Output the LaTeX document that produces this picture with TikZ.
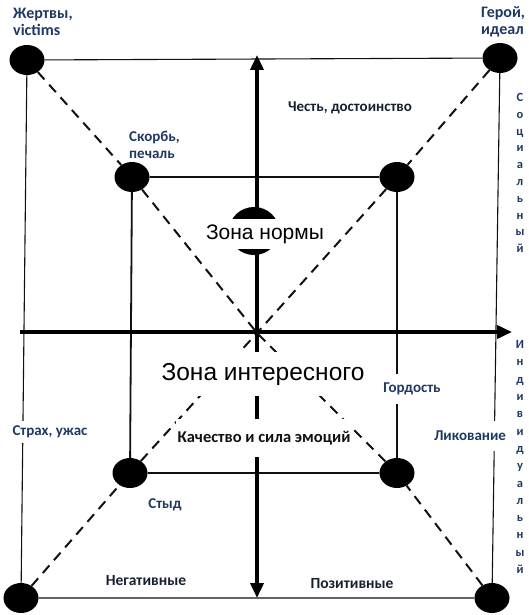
\documentclass[tikz,border=0pt]{standalone}
\usepackage{fontspec}
\setmainfont{Carlito}
\newfontfamily\zonefont{Liberation Sans}
\usetikzlibrary{arrows.meta,shapes.geometric}
\definecolor{emoblue}{HTML}{1F3864}
\definecolor{emodark}{HTML}{17202E}
\definecolor{emofg}{HTML}{111111}

\begin{document}
\begin{tikzpicture}[x=1pt,y=-1pt,>={Triangle[length=15pt,width=13pt]}]
  \tikzstyle{bigdot}=[ellipse, fill=black, minimum width=35pt, minimum height=30pt, inner sep=0pt]
  \tikzstyle{outer}=[draw=emofg, line width=1.1pt]
  \tikzstyle{inner}=[draw=emofg, line width=1.8pt]
  \tikzstyle{diag}=[draw=emofg, line width=2pt, dash pattern=on 10pt off 7pt]
  \tikzstyle{axis}=[draw=black, line width=3.6pt]
  \tikzstyle{emolabel}=[font=\bfseries\fontsize{15}{16.5}\selectfont, text=emoblue, align=left, inner sep=1pt]
  \tikzstyle{whitelabel}=[emolabel, fill=white, inner xsep=2pt]
  \tikzstyle{sidelabel}=[font=\bfseries\fontsize{12.5}{16.8}\selectfont, text=emoblue, align=center, inner sep=0pt]
  \tikzstyle{zone}=[text=black, fill=white, inner xsep=2pt]

  \path[use as bounding box] (0,0) rectangle (528,615);

  % outer corners
  \node[bigdot] (victim) at (27,60) {};
  \node[bigdot] (hero) at (500,58) {};
  \node[bigdot] (fear) at (21,598) {};
  \node[bigdot] (joy) at (492,598) {};
  % inner corners
  \node[bigdot] (grief) at (132,177) {};
  \node[bigdot] (honour) at (397,177) {};
  \node[bigdot] (shame) at (130,473) {};
  \node[bigdot] (pride) at (397,473) {};
  \coordinate (mid) at (257,333);

  \draw[outer] (victim) -- (hero) -- (joy) -- (fear) -- (victim);
  \draw[inner] (grief) -- (honour) -- (pride) -- (shame) -- (grief);

  \draw[diag] (victim) -- (grief) -- (mid);
  \draw[diag] (hero) -- (honour) -- (mid);
  \draw[diag] (fear) -- (shame) -- (mid);
  \draw[diag] (joy) -- (pride) -- (mid);

  % axes
  \coordinate (axtop) at (257,55);
  \coordinate (axbot) at (257,598);
  \coordinate (axleft) at (20,332);
  \coordinate (axright) at (512,332);
  \draw[axis,<->] (axtop) -- (axbot);
  \draw[axis,->] (axleft) -- (axright);

  \node[ellipse, fill=black, minimum width=50pt, minimum height=48pt, inner sep=0pt] (normdot) at (254,231) {};
  \node[zone, font=\zonefont\fontsize{21}{24}\selectfont, inner ysep=5.5pt] (norm) at (265,234) {Зона нормы};
  \node[zone, font=\zonefont\fontsize{24.5}{28}\selectfont, inner ysep=11pt] (interest) at (263,374) {Зона интересного};
  \node[zone, font=\bfseries\fontsize{16.5}{19}\selectfont, text=emofg, inner ysep=12pt] (quality) at (264,438) {Качество и сила эмоций};

  \node[emolabel, anchor=west, font=\bfseries\fontsize{16}{17}\selectfont] (victimlbl) at (12,22) {Жертвы,\\victims};
  \node[emolabel, anchor=west, font=\bfseries\fontsize{16}{17}\selectfont] (herolbl) at (480,22) {Герой,\\идеал};
  \node[emolabel, anchor=west] (grieflbl) at (128,145) {Скорбь,\\печаль};
  \node[emolabel, text=emodark] (honourlbl) at (350,108) {Честь, достоинство};
  \node[whitelabel, inner ysep=5pt] (fearlbl) at (50,432) {Страх, ужас};
  \node[emolabel] (shamelbl) at (165,505) {Стыд};
  \node[whitelabel, inner ysep=9pt] (pridelbl) at (412,389) {Гордость};
  \node[whitelabel, inner ysep=10pt] (joylbl) at (470,436) {Ликование};
  \node[emolabel, text=emodark, font=\bfseries\fontsize{15.5}{17}\selectfont] (neglbl) at (146,581) {Негативные};
  \node[emolabel, text=emodark, font=\bfseries\fontsize{15.5}{17}\selectfont] (poslbl) at (352,584) {Позитивные};

  \node[sidelabel] (social) at (520,173) {С\\о\\ц\\и\\а\\л\\ь\\н\\ы\\й};
  \node[sidelabel, font=\bfseries\fontsize{12.5}{17.3}\selectfont] (individual) at (520,457) {И\\н\\д\\и\\в\\и\\д\\у\\а\\л\\ь\\н\\ы\\й};
\end{tikzpicture}
\end{document}
